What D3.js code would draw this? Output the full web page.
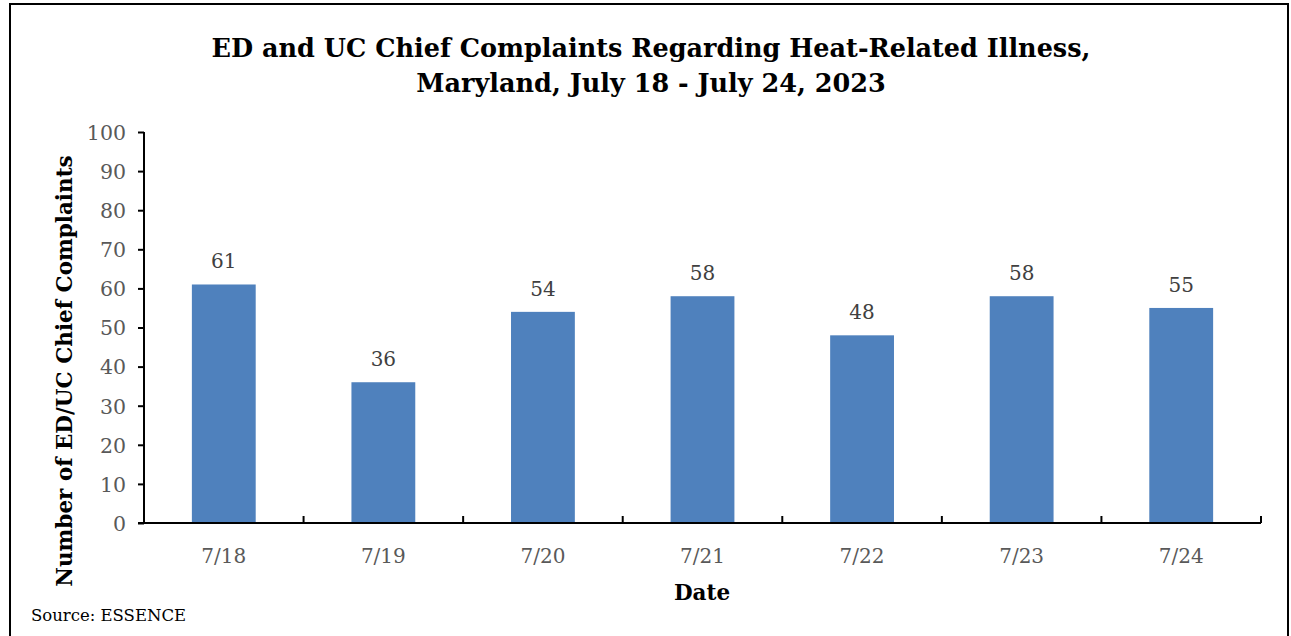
<!DOCTYPE html>
<meta charset="utf-8">
<head>
    <style>
        body {margin: 0; background: #fff;}
        text {font-family: "DejaVu Serif", "Liberation Serif", serif;}
        .tick text {fill: #595959;}
        .bar {fill: #4f81bd;}
        .lbl {fill: #404040;}
    </style>
    <script src="https://d3js.org/d3.v7.min.js"></script>
</head>
<body>
<script>

    var dates = ["7/18", "7/19", "7/20", "7/21", "7/22", "7/23", "7/24"],
        complaints = [61, 36, 54, 58, 48, 58, 55],
        yTicks = [0, 10, 20, 30, 40, 50, 60, 70, 80, 90, 100],
        titleLines = ["ED and UC Chief Complaints Regarding Heat-Related Illness,", "Maryland, July 18 - July 24, 2023"];

    var W = 1291, H = 636;
    var margin = {top: 132, right: 30, bottom: 113, left: 144},
        width = W - margin.left - margin.right,
        height = H - margin.top - margin.bottom;

    var svg = d3.select("body").append("svg")
        .attr("width", W)
        .attr("height", H)

    // chart border
    svg.append("rect")
        .attr("x", 10).attr("y", 4)
        .attr("width", 1278).attr("height", 640)
        .attr("fill", "none").attr("stroke", "#000").attr("stroke-width", 2)

    svg.append("text")
        .attr("x", 651).attr("y", 57)
        .attr("text-anchor", "middle")
        .attr("font-weight", "bold").attr("font-size", 25.5)
        .selectAll("tspan")
        .data(titleLines)
      .enter().append("tspan")
        .attr("x", 651)
        .attr("dy", function(d, i) {return i ? 35 : 0})
        .text(function(d) {return d})

    var g = svg.append("g")
        .attr("transform", "translate(" + margin.left + "," + margin.top + ")")

    var x = d3.scaleBand()
        .domain(dates)
        .range([0, width])
        .paddingInner(0.6)
        .paddingOuter(0.3)

    var y = d3.scaleLinear()
        .domain([0, 100])
        .range([height, 0]);

    g.selectAll(".bar")
        .data(complaints)
      .enter().append("rect")
        .attr("class", "bar")
        .attr("x", function(d, i) {return x(dates[i])})
        .attr("y", function(d) {return y(d)})
        .attr("width", x.bandwidth())
        .attr("height", function(d) {return height - y(d)})

    g.selectAll(".lbl")
        .data(complaints)
      .enter().append("text")
        .attr("class", "lbl")
        .attr("x", function(d, i) {return x(dates[i]) + x.bandwidth() / 2})
        .attr("y", function(d) {return y(d) - 16})
        .attr("text-anchor", "middle")
        .attr("font-size", 20)
        .text(function(d) {return d})

    var yAxis = g.append("g")
        .call(d3.axisLeft(y).tickValues(yTicks).tickSize(6).tickPadding(12))
    yAxis.selectAll("text").attr("font-size", 20.5).attr("dy", "0.36em")

    // x axis: ticks sit between the categories, pointing up
    var step = x.step();
    var xAxis = g.append("g")
        .attr("transform", "translate(0," + height + ")")
    xAxis.append("line")
        .attr("x1", -6).attr("x2", width)
        .attr("stroke", "#000").attr("stroke-width", 2)
    xAxis.selectAll(".xt")
        .data(d3.range(1, dates.length + 1))
      .enter().append("line")
        .attr("x1", function(d) {return d * step}).attr("x2", function(d) {return d * step})
        .attr("y1", 0).attr("y2", -7)
        .attr("stroke", "#000").attr("stroke-width", 2)
    xAxis.selectAll(".xl")
        .data(dates)
      .enter().append("text")
        .attr("class", "xl")
        .attr("x", function(d) {return x(d) + x.bandwidth() / 2})
        .attr("y", 40)
        .attr("text-anchor", "middle")
        .attr("font-size", 20)
        .attr("fill", "#595959")
        .text(function(d) {return d})

    yAxis.select(".domain").attr("stroke-width", 2).attr("d", "M0,0V" + height)
    yAxis.selectAll(".tick line").attr("stroke-width", 2)

    svg.append("text")
        .attr("transform", "translate(72,371) rotate(-90)")
        .attr("text-anchor", "middle")
        .attr("font-weight", "bold").attr("font-size", 21.5)
        .text("Number of ED/UC Chief Complaints")

    svg.append("text")
        .attr("x", 702).attr("y", 600)
        .attr("text-anchor", "middle")
        .attr("font-weight", "bold").attr("font-size", 21.5)
        .text("Date")

    svg.append("text")
        .attr("x", 31).attr("y", 621)
        .attr("font-size", 16.5)
        .text("Source: ESSENCE")

</script>
</body>
